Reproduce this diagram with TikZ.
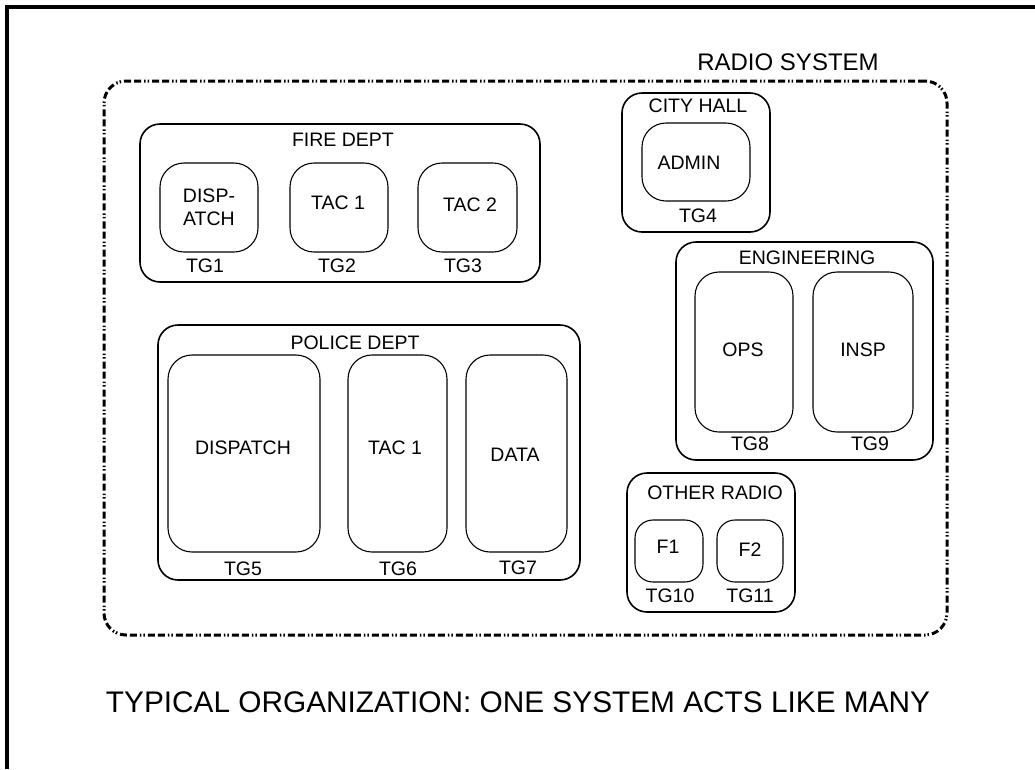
\documentclass[tikz,border=0pt]{standalone}
\usepackage{fontspec}
\setmainfont{Liberation Sans}
\usetikzlibrary{positioning}

\begin{document}
\begin{tikzpicture}[x=1pt, y=-1pt,
    every node/.style={font=\fontsize{19.5}{23}\selectfont},
    sysbox/.style={draw, line width=3pt, rounded corners=22pt, inner sep=0pt,
                   dash pattern=on 7pt off 3pt on 7pt off 3pt on 1.5pt off 2pt on 1.5pt off 3pt},
    grpbox/.style={draw, line width=1.6pt, rounded corners=20pt, inner sep=0pt},
    chanbox/.style={draw, line width=1.1pt, rounded corners=24pt, inner sep=0pt},
    lbl/.style={inner sep=0pt, align=center}]
    \useasboundingbox (0,0) rectangle (1035,769);
    \draw[line width=3.5pt] (7,769) -- (7,7) -- (1035,7);

    \node [sysbox, minimum width=843pt, minimum height=554pt] (sys) at (525.5,358) {};
    \node [lbl, font=\fontsize{24}{28}\selectfont] (systitle) at (788,62) {RADIO SYSTEM};

    % fire dept
    \node [grpbox, minimum width=400pt, minimum height=158pt] (fire) at (340,203) {};
    \node [lbl] (firetitle) at (343,140) {FIRE DEPT};
    \node [chanbox, minimum width=98pt, minimum height=89pt] (fdisp) at (209,207.5) {};
    \node [chanbox, minimum width=98pt, minimum height=89pt] (ftac1) at (339,207.5) {};
    \node [chanbox, minimum width=99pt, minimum height=89pt] (ftac2) at (467.5,207.5) {};
    \node [lbl] at (fdisp) {DISP-\\ATCH};
    \node [lbl] at (338,203) {TAC 1};
    \node [lbl] at (470,205) {TAC 2};
    \node [lbl] (tg1) at (205,266) {TG1};
    \node [lbl] (tg2) at (337,266) {TG2};
    \node [lbl] (tg3) at (463,266) {TG3};

    % city hall
    \node [grpbox, minimum width=148pt, minimum height=139pt] (city) at (696,162.5) {};
    \node [lbl] (citytitle) at (698,106) {CITY HALL};
    \node [chanbox, minimum width=108pt, minimum height=78pt] (admin) at (696,162) {};
    \node [lbl] at (689,163) {ADMIN};
    \node [lbl] (tg4) at (698,216) {TG4};

    % engineering
    \node [grpbox, minimum width=257pt, minimum height=218pt] (eng) at (804.5,351) {};
    \node [lbl] (engtitle) at (807,258) {ENGINEERING};
    \node [chanbox, minimum width=98pt, minimum height=160pt] (ops) at (744,352) {};
    \node [chanbox, minimum width=100pt, minimum height=160pt] (insp) at (863,352) {};
    \node [lbl] at (743,350) {OPS};
    \node [lbl] at (863,350) {INSP};
    \node [lbl] (tg8) at (750,444) {TG8};
    \node [lbl] (tg9) at (870,444) {TG9};

    % police dept
    \node [grpbox, minimum width=422pt, minimum height=255pt] (police) at (369,452.5) {};
    \node [lbl] (policetitle) at (355,343) {POLICE DEPT};
    \node [chanbox, minimum width=152pt, minimum height=197pt] (pdisp) at (244,453.5) {};
    \node [chanbox, minimum width=99pt, minimum height=197pt] (ptac1) at (397.5,453.5) {};
    \node [chanbox, minimum width=101pt, minimum height=197pt] (pdata) at (516.5,453.5) {};
    \node [lbl] at (243,448) {DISPATCH};
    \node [lbl] at (395,448) {TAC 1};
    \node [lbl] at (515,455) {DATA};
    \node [lbl] (tg5) at (243,569) {TG5};
    \node [lbl] (tg6) at (398,569) {TG6};
    \node [lbl] (tg7) at (518,568) {TG7};

    % other radio
    \node [grpbox, minimum width=168pt, minimum height=139pt] (other) at (711,542.5) {};
    \node [lbl] (othertitle) at (715,493) {OTHER RADIO};
    \node [chanbox, rounded corners=18pt, minimum width=68pt, minimum height=62pt] (f1) at (669,551) {};
    \node [chanbox, rounded corners=18pt, minimum width=66pt, minimum height=62pt] (f2) at (750,551) {};
    \node [lbl] at (668,547) {F1};
    \node [lbl] at (750,550) {F2};
    \node [lbl] (tg10) at (670,596) {TG10};
    \node [lbl] (tg11) at (750,596) {TG11};

    \node [lbl, font=\fontsize{29.8}{34}\selectfont] (caption) at (518,702)
          {TYPICAL ORGANIZATION: ONE SYSTEM ACTS LIKE MANY};
\end{tikzpicture}
\end{document}
